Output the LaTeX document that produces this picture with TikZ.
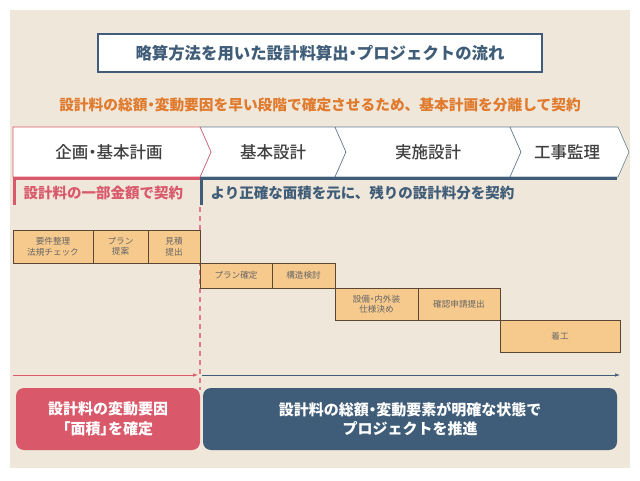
\documentclass[tikz,border=0pt]{standalone}
\usepackage{fontspec}
\setmainfont{Noto Sans CJK JP}
\newfontfamily\medfont{Noto Sans CJK JP Medium}
\newfontfamily\paltfont{Noto Sans CJK JP}[RawFeature=+palt]
\newfontfamily\paltmed{Noto Sans CJK JP Medium}[RawFeature=+palt]
\newcommand{\nkg}{{\paltfont ・}}
\newcommand{\nkgm}{{\paltmed ・}}
\usetikzlibrary{arrows.meta}
\definecolor{bgbeige}{HTML}{F0E7DB}
\definecolor{slate}{HTML}{3F5D78}
\definecolor{pinkred}{HTML}{D9596B}
\definecolor{orangetxt}{HTML}{E07A2C}
\definecolor{boxfill}{HTML}{F6C98C}
\definecolor{boxline}{HTML}{5A4634}
\definecolor{darktxt}{HTML}{404040}
\tikzset{
  taskbox/.style={draw=boxline, line width=0.9pt, fill=boxfill, inner sep=0pt, align=center,
    font=\fontsize{8.6}{10.5}\selectfont, text=darktxt!80},
  phaselbl/.style={font=\medfont\fontsize{16.5}{19}\selectfont, text=darktxt},
  sublbl/.style={font=\bfseries\fontsize{14.5}{17}\selectfont, anchor=west},
  summary/.style={rounded corners=8pt, inner sep=0pt, align=center, text=white,
    font=\bfseries\fontsize{15}{19.5}\selectfont},
}
\begin{document}
\begin{tikzpicture}[x=1pt,y=-1pt]
\useasboundingbox (0,0) rectangle (640,480);
\fill[white] (0,0) rectangle (640,480);
\fill[bgbeige] (10,10) rectangle (630,468);
% title
\node[draw=slate, line width=1.6pt, fill=white, minimum width=444pt, minimum height=38pt,
  font=\bfseries\fontsize{16.4}{19}\selectfont, text=slate] (title) at (320,53)
  {略算方法を用いた設計料算出\nkg プロジェクトの流れ};
\node[font=\bfseries\fontsize{14.7}{17}\selectfont, text=orangetxt] (sub) at (320,105)
  {設計料の総額\nkg 変動要因を早い段階で確定させるため、基本計画を分離して契約};
% chevrons
\draw[slate!80, line width=0.6pt, fill=white] (200,127) -- (335,127) -- (346,152) -- (335,177) -- (200,177) -- (211,152) -- cycle;
\draw[slate!80, line width=0.6pt, fill=white] (335,127) -- (510,127) -- (521,152) -- (510,177) -- (335,177) -- (346,152) -- cycle;
\draw[slate!80, line width=0.6pt, fill=white] (510,127) -- (618,127) -- (629,152) -- (618,177) -- (510,177) -- (521,152) -- cycle;
\draw[pinkred, line width=0.6pt, fill=white] (13,127) -- (200,127) -- (211,152) -- (200,177) -- (13,177) -- cycle;
\node[phaselbl] (p1) at (109,152) {企画\nkgm 基本計画};
\node[phaselbl] (p2) at (273,152) {基本設計};
\node[phaselbl] (p3) at (428,152) {実施設計};
\node[phaselbl] (p4) at (567,152) {工事監理};
% bars
\draw[pinkred, line width=3.5pt] (13,178.5) -- (200,178.5);
\draw[slate, line width=3.5pt] (200,178.5) -- (617,178.5);
\draw[pinkred, line width=3pt] (14.5,177) -- (14.5,205);
\draw[slate, line width=3pt] (201,177) -- (201,205);
\node[sublbl, text=pinkred] (c1) at (20,193) {設計料の一部金額で契約};
\node[sublbl, text=slate] (c2) at (207,193) {より正確な面積を元に、残りの設計料分を契約};
% dashed divider
\coordinate (dtop) at (200,207);
\coordinate (dbot) at (200,390);
\draw[pinkred!80, line width=1.3pt, dash pattern=on 5pt off 4pt] (dtop) -- (dbot);
% task boxes
\node[taskbox, minimum width=80pt, minimum height=33pt] (t1) at (53,246.5) {要件整理\\法規チェック};
\node[taskbox, minimum width=55pt, minimum height=33pt] (t2) at (120.5,246.5) {プラン\\提案};
\node[taskbox, minimum width=52pt, minimum height=33pt] (t3) at (174,246.5) {見積\\提出};
\node[taskbox, minimum width=72pt, minimum height=25pt] (t4) at (236,275.5) {プラン確定};
\node[taskbox, minimum width=63pt, minimum height=25pt] (t5) at (303.5,275.5) {構造検討};
\node[taskbox, minimum width=83pt, minimum height=32pt] (t6) at (376.5,304) {設備{\paltfont ・}内外装\\仕様決め};
\node[taskbox, minimum width=82pt, minimum height=32pt] (t7) at (459,304) {確認申請提出};
\node[taskbox, minimum width=120pt, minimum height=32pt] (t8) at (560,336) {着工};
% timeline arrows
\coordinate (a1s) at (13,375);
\coordinate (a1e) at (198,375);
\coordinate (a2s) at (202,375);
\coordinate (a2e) at (620,375);
\draw[pinkred, line width=0.7pt, -{Latex[length=5pt,width=3.5pt]}] (a1s) -- (a1e);
\draw[slate, line width=0.7pt, -{Latex[length=5pt,width=3.5pt]}] (a2s) -- (a2e);
% summaries
\node[summary, fill=pinkred, minimum width=184pt, minimum height=62pt] (s1) at (108,419)
  {設計料の変動要因\\{\paltfont 「}面積{\paltfont 」}を確定};
\node[summary, fill=slate, minimum width=414pt, minimum height=62pt] (s2) at (410,419)
  {設計料の総額\nkg 変動要素が明確な状態で\\プロジェクトを推進};
\end{tikzpicture}
\end{document}
